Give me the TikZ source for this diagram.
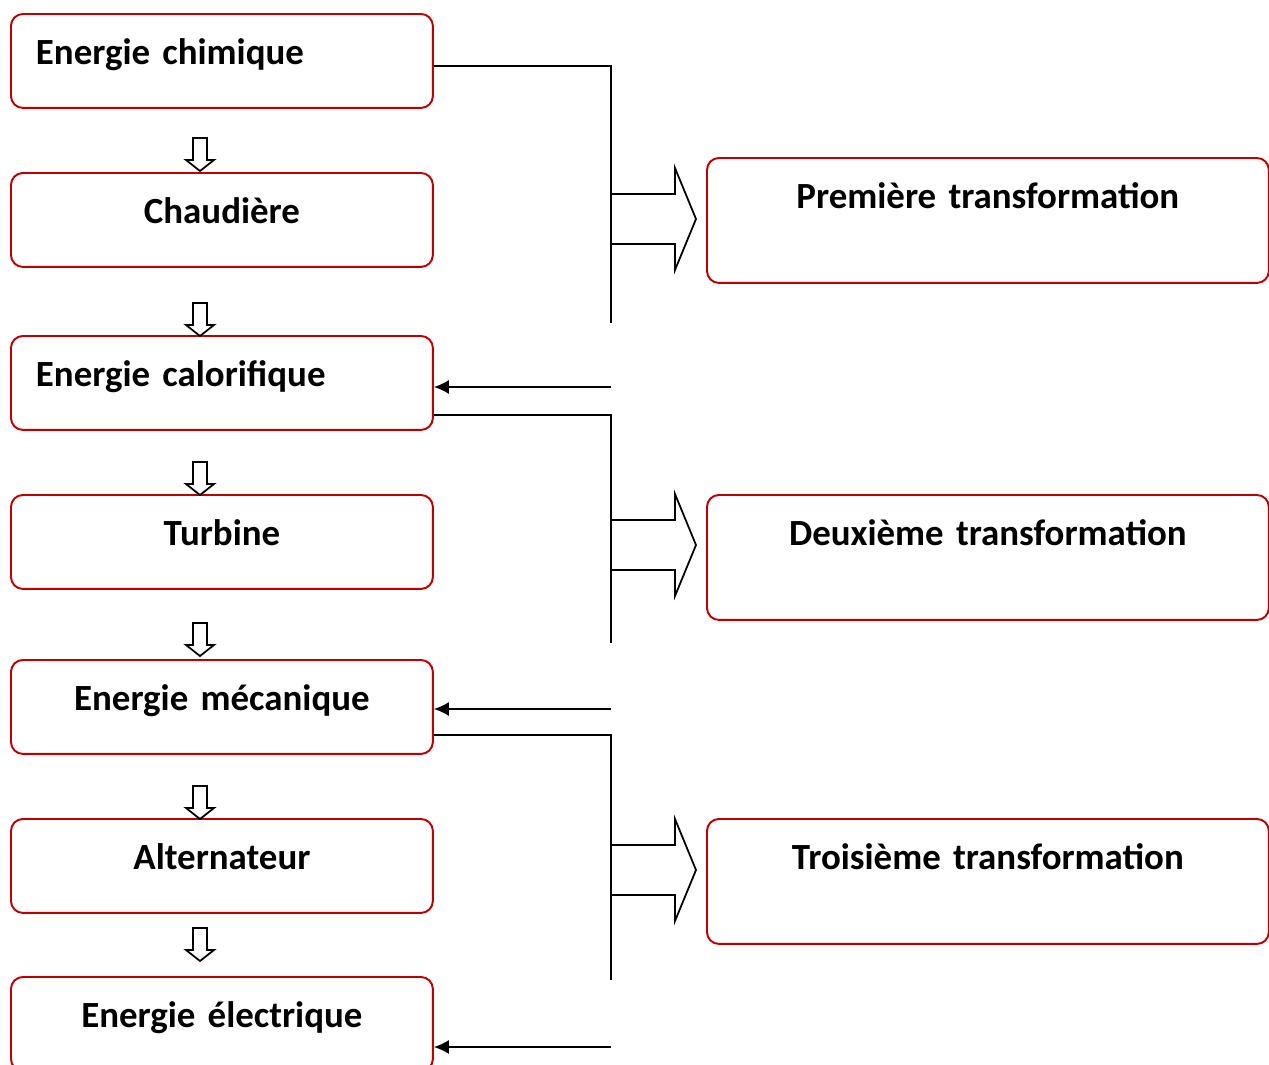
\documentclass[tikz,border=0pt]{standalone}
\usepackage{fontspec}
\setmainfont{Carlito}
\usetikzlibrary{arrows.meta,positioning}
\definecolor{boxred}{RGB}{192,0,0}
\newcommand\boxfont{\bfseries\fontsize{21}{24}\selectfont\spaceskip=0.17em\relax}
\tikzstyle{lbox}=[draw=boxred, line width=1.1pt, rounded corners=0.24cm, inner xsep=0.5cm, inner ysep=0pt, text width=7.44cm, text height=1.01cm, text depth=0.87cm, anchor=north west, font=\boxfont]
\tikzstyle{rbox}=[lbox, text width=10.24cm, text depth=1.49cm, align=center]
\tikzstyle{link}=[line width=1pt]

\begin{document}
\begin{tikzpicture}
[x=0.02cm, y=-0.02cm, link]
\clip (0,0) rectangle (1269,1065);
\node[lbox, align=left] (1) at (10,13) {Energie chimique};
\node[lbox, align=center] (2) at (10,172) {Chaudière};
\node[lbox, align=left] (3) at (10,335) {Energie calorifique};
\node[lbox, align=center] (4) at (10,494) {Turbine};
\node[lbox, align=center] (5) at (10,659) {Energie mécanique};
\node[lbox, align=center] (6) at (10,818) {Alternateur};
\node[lbox, align=center] (7) at (10,976) {Energie électrique};
\node[rbox] (a) at (706,157) {Première transformation};
\node[rbox] (b) at (706,494) {Deuxième transformation};
\node[rbox] (c) at (706,818) {Troisième transformation};
% small hollow arrows
\foreach \t in {138,303,462,623,786,928}
  \draw (193,\t) -- (207,\t) -- (207,\t+22) -- (214,\t+22) -- (200,\t+33)
    -- (186,\t+22) -- (193,\t+22) -- cycle;
% big hollow arrows
\foreach \m in {219,545,870}
  \draw (611,\m-25) -- (675,\m-25) -- (675,\m-51) -- (696,\m)
    -- (675,\m+51) -- (675,\m+25) -- (611,\m+25);
\coordinate (j1) at (611,66);
\coordinate (k1) at (611,323);
\coordinate (m1) at (611,387);
\coordinate (j2) at (611,415);
\coordinate (k2) at (611,643);
\coordinate (m2) at (611,709);
\coordinate (j3) at (611,735);
\coordinate (k3) at (611,980);
\coordinate (m3) at (611,1047);
\draw (1.east |- j1) -- (j1) -- (k1);
\draw (3.east |- j2) -- (j2) -- (k2);
\draw (5.east |- j3) -- (j3) -- (k3);
\path[-{Latex[length=0.3cm, width=0.28cm]}]
   (m1) edge node {} (3.east |- m1)
   (m2) edge node {} (5.east |- m2)
   (m3) edge node {} (7.east |- m3);
\end{tikzpicture}
\end{document}
